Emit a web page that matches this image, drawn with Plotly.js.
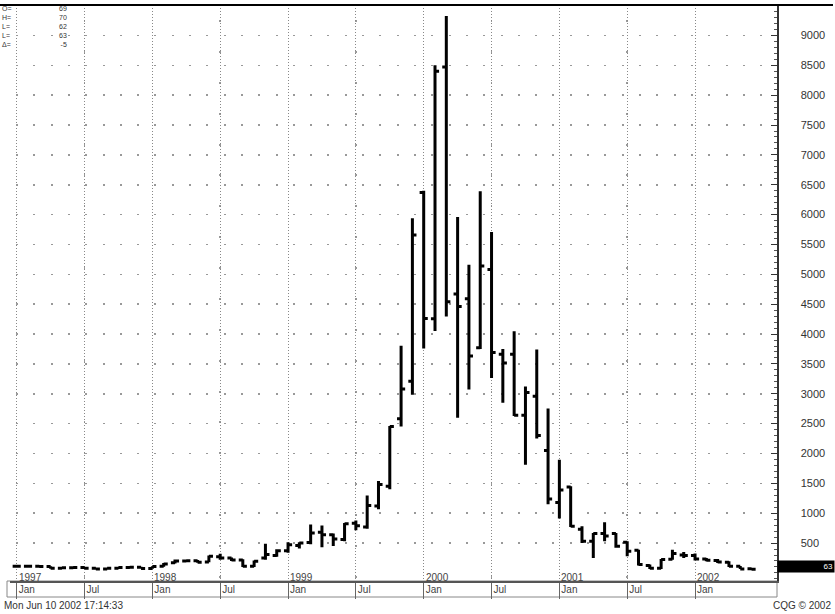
<!DOCTYPE html>
<html>
<head>
<meta charset="utf-8">
<script src="https://cdn.plot.ly/plotly-3.0.1.min.js"></script>
<style>
html,body{margin:0;padding:0;background:#fff;}
#chart{width:835px;height:614px;}
</style>
</head>
<body>
<div id="chart"></div>
<script>
// Monthly bars, Jan 1997 .. Jun 2002
const months = [
 '1997-01','1997-02','1997-03','1997-04','1997-05','1997-06','1997-07','1997-08','1997-09','1997-10','1997-11','1997-12',
 '1998-01','1998-02','1998-03','1998-04','1998-05','1998-06','1998-07','1998-08','1998-09','1998-10','1998-11','1998-12',
 '1999-01','1999-02','1999-03','1999-04','1999-05','1999-06','1999-07','1999-08','1999-09','1999-10','1999-11','1999-12',
 '2000-01','2000-02','2000-03','2000-04','2000-05','2000-06','2000-07','2000-08','2000-09','2000-10','2000-11','2000-12',
 '2001-01','2001-02','2001-03','2001-04','2001-05','2001-06','2001-07','2001-08','2001-09','2001-10','2001-11','2001-12',
 '2002-01','2002-02','2002-03','2002-04','2002-05','2002-06'
];
const openP = [
 110,112,110,106,78,86,92,80,66,78,90,96,
 76,110,170,200,205,185,270,250,215,110,250,290,
 370,460,510,680,640,560,830,770,1120,1450,2580,3210,
 6370,4255,8470,4670,4590,3770,5080,3660,3660,2640,2960,2050,
 1180,1440,730,530,660,660,515,380,125,80,230,300,
 290,235,210,180,110,69
];
const highP = [
 118,120,116,110,92,100,98,86,84,96,104,104,
 112,165,225,215,215,290,320,260,230,210,490,395,
 515,515,810,795,660,838,880,1295,1540,2460,3805,5940,
 6400,8500,9325,5960,5160,6390,5710,3750,4047,3120,3740,2755,
 1895,1450,780,670,850,670,530,390,140,235,390,350,
 325,252,235,196,115,70
];
const lowP = [
 100,104,98,72,70,78,72,60,62,74,82,70,
 70,105,160,180,170,180,220,200,100,100,220,270,
 340,410,480,430,450,530,715,740,1065,1400,2450,2985,
 3760,4050,4296,2600,3070,3750,3266,2850,2627,1810,2250,1150,
 910,770,500,250,530,420,280,123,67,67,220,250,
 210,196,168,100,65,62
];
const closeP = [
 112,110,106,78,86,92,80,66,78,90,96,76,
 106,150,200,205,180,280,250,215,110,195,310,370,
 470,500,670,640,570,825,790,1130,1480,2450,3080,5660,
 4260,8400,4540,4460,3633,5140,3690,3515,2640,3020,2300,1240,
 1390,780,530,660,620,445,365,140,80,224,324,290,
 235,212,185,112,68,63
];

// Axis labels
const stripTickMonths = ['1997-01','1997-07','1998-01','1998-07','1999-01','1999-07','2000-01','2000-07','2001-01','2001-07','2002-01'];
const stripTickText   = ['Jan','Jul','Jan','Jul','Jan','Jul','Jan','Jul','Jan','Jul','Jan'];
const yearTickMonths  = ['1997-01','1998-01','1999-01','2000-01','2001-01','2002-01'];
const yearTickText    = ['1997','1998','1999','2000','2001','2002'];
const julMonths       = ['1997-07','1998-07','1999-07','2000-07','2001-07'];
const yTickVals = [500,1000,1500,2000,2500,3000,3500,4000,4500,5000,5500,6000,6500,7000,7500,8000,8500,9000];
const infoLabels = ['O=','H=','L=','L=','\u0394='];
const headerText = 'Mon Jun 10 2002 17:14:33';
const footerText = 'CQG \u00a9 2002';

// bar index along the time axis
const idx = months.map((m, i) => i);
const pos = m => months.indexOf(m);

const last = months.length - 1;
const infoValues = [openP[last], highP[last], lowP[last], closeP[last], closeP[last] - closeP[last - 1]].map(String);

const X_RANGE = [-0.593, 67.25];
const FONT = '"Liberation Sans", Arial, Helvetica, sans-serif';

const traces = [
  {
    type: 'ohlc',
    x: idx, open: openP, high: highP, low: lowP, close: closeP,
    increasing: {line: {color: '#000', width: 3}},
    decreasing: {line: {color: '#000', width: 3}},
    tickwidth: 0.36,
    hoverinfo: 'skip',
    showlegend: false
  },
  {type: 'scatter', x: [], y: [], xaxis: 'x2', yaxis: 'y', showlegend: false, hoverinfo: 'skip'}
];

const plotW = 767, plotH = 576;
const px2paperX = px => (px - 10) / plotW;
const px2paperY = py => (581 - py) / plotH;

const annotations = [];
// quote box, top-left (one multi-line text per column)
annotations.push({xref: 'paper', yref: 'paper', x: px2paperX(1), y: 1, xanchor: 'left', yanchor: 'top',
  yshift: 1, align: 'left', borderpad: 0, text: infoLabels.join('<br>'), showarrow: false,
  font: {family: FONT, size: 7, color: '#333'}});
annotations.push({xref: 'paper', yref: 'paper', x: px2paperX(68), y: 1, xanchor: 'right', yanchor: 'top',
  yshift: 1, align: 'right', borderpad: 0, text: infoValues.join('<br>'), showarrow: false,
  font: {family: FONT, size: 7, color: '#333'}});
// year labels sitting inside the plot, just right of each January line
yearTickMonths.forEach((m, k) => {
  annotations.push({xref: 'x', yref: 'paper', x: pos(m), y: 0, xanchor: 'left', yanchor: 'bottom',
    xshift: 1, yshift: -3, text: yearTickText[k], showarrow: false, borderpad: 0,
    font: {family: FONT, size: 10, color: '#444'}});
});
annotations.push({xref: 'paper', yref: 'y', x: 1, y: closeP[last], xanchor: 'left', yanchor: 'middle',
  yshift: 3, text: String(closeP[last]), showarrow: false, bgcolor: '#000', width: 54, align: 'right',
  borderpad: 1, font: {family: FONT, size: 8, color: '#fff'}});
annotations.push({xref: 'paper', yref: 'paper', x: px2paperX(2), y: px2paperY(605), xanchor: 'left', yanchor: 'middle',
  text: headerText, showarrow: false, font: {family: FONT, size: 10, color: '#333'}});
annotations.push({xref: 'paper', yref: 'paper', x: px2paperX(833), y: px2paperY(605), xanchor: 'right', yanchor: 'middle',
  text: footerText, showarrow: false, font: {family: FONT, size: 10, color: '#333'}});

const shapes = [
  // time strip under the plot
  {type: 'rect', xref: 'paper', yref: 'paper', x0: px2paperX(7), x1: 1, y0: px2paperY(597), y1: 0,
   line: {color: '#888', width: 1}, fillcolor: 'rgba(0,0,0,0)', layer: 'below'},
  // top frame line
  {type: 'line', xref: 'paper', yref: 'paper', x0: px2paperX(0), x1: px2paperX(833), y0: 1, y1: 1,
   line: {color: '#000', width: 2}}
];

const layout = {
  width: 835, height: 614,
  margin: {l: 10, r: 58, t: 5, b: 33, pad: 0},
  paper_bgcolor: '#fff', plot_bgcolor: '#fff',
  font: {family: FONT, size: 10, color: '#333'},
  showlegend: false,
  dragmode: false,
  xaxis: {
    range: X_RANGE, fixedrange: true, rangeslider: {visible: false},
    tickmode: 'array', tickvals: stripTickMonths.map(pos), showticklabels: false,
    ticks: 'outside', ticklen: 16, tickcolor: '#666', tickwidth: 1,
    showgrid: true, gridcolor: '#888', gridwidth: 1, griddash: '1px,2px',
    zeroline: false, showline: true, linecolor: '#555', linewidth: 2,
    minor: {tickmode: 'array', tickvals: julMonths.map(pos), ticks: '', showgrid: true,
            gridcolor: '#999', gridwidth: 1.5, griddash: '0px,15px,2px,13.88px'}
  },
  xaxis2: {
    overlaying: 'x', anchor: 'y', side: 'bottom', range: X_RANGE, fixedrange: true,
    tickmode: 'array', tickvals: stripTickMonths.map(pos), ticktext: stripTickText,
    ticklabelposition: 'outside right', ticks: '', showgrid: false, zeroline: false, showline: false,
    tickfont: {family: FONT, size: 10, color: '#444'}, ticklabelshift: 2, ticklabelstandoff: 1
  },
  yaxis: {
    side: 'right', range: [-135, 9510], fixedrange: true,
    tickmode: 'array', tickvals: yTickVals,
    ticks: 'inside', ticklen: 6, tickcolor: '#333', tickwidth: 1,
    showgrid: true, gridcolor: '#999', gridwidth: 1.5, griddash: '0px,6px,2px,9.305px',
    zeroline: false, showline: true, linecolor: '#333', linewidth: 1.5,
    tickfont: {family: FONT, size: 11, color: '#333'}, ticklabelstandoff: 20,
    minor: {tickmode: 'linear', tick0: 0, dtick: 100, ticks: 'inside', ticklen: 3, tickcolor: '#555', showgrid: false}
  },
  annotations: annotations,
  shapes: shapes
};

Plotly.newPlot('chart', traces, layout, {displayModeBar: false, staticPlot: true});
</script>
</body>
</html>
